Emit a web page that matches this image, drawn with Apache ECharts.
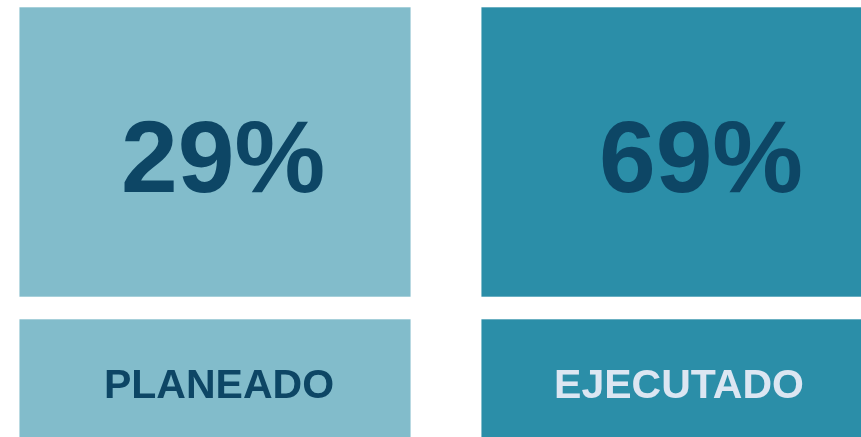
<!DOCTYPE html>
<html>
<head>
<meta charset="utf-8">
<title>Planeado vs Ejecutado</title>
<script src="https://cdn.jsdelivr.net/npm/echarts@6/dist/echarts.min.js"></script>
<style>
  html, body { margin: 0; padding: 0; background: #ffffff; }
  #chart { width: 861px; height: 437px; }
</style>
</head>
<body>
<div id="chart"></div>
<script>
// data
const categories = ['PLANEADO', 'EJECUTADO'];
const percentValues = [29, 69];

// look
const boxColors = ['#82BCCB', '#2B8EA8'];
const labelColors = ['#0D4665', '#DCE6F2'];
const valueColor = '#0D4665';
const valueShift = [8, 24];   // text nudge from card centre
const labelShift = [4, 2];

const chart = echarts.init(document.getElementById('chart'));

function cardItem(top, bottom, textFn, fontSize, dy, colorFn, shift) {
    return function (params, api) {
        const idx = api.value(0);
        const p1 = api.coord([idx, top]);
        const p2 = api.coord([idx, bottom]);
        const w = api.size([0.848, 0])[0];
        const cx = p1[0];
        return {
            type: 'group',
            children: [{
                type: 'rect',
                shape: { x: cx - w / 2, y: p1[1], width: w, height: p2[1] - p1[1] },
                style: { fill: boxColors[idx], stroke: 'rgba(255,255,255,0.6)', lineWidth: 1 }
            }, {
                type: 'text',
                style: {
                    text: textFn(idx, api),
                    x: cx + shift[idx],
                    y: (p1[1] + p2[1]) / 2 + dy,
                    fill: colorFn(idx),
                    fontSize: fontSize,
                    fontWeight: 'bold',
                    fontFamily: 'Liberation Sans, Arial, sans-serif',
                    align: 'center',
                    verticalAlign: 'middle'
                }
            }]
        };
    };
}

const option = {
    animation: false,
    grid: { left: 0, right: 0, top: 0, bottom: 0 },
    // one unit = 462px, card 0 centred at x=215
    xAxis: { type: 'value', min: -0.4654, max: 1.3983, show: false },
    yAxis: { type: 'value', min: 0, max: 437, inverse: true, show: false },
    series: [{
        name: 'valor',
        type: 'custom',
        renderItem: cardItem(7, 297, function (i, api) { return api.value(1) + '%'; }, 102, 12,
            function () { return valueColor; }, valueShift),
        data: percentValues.map(function (v, i) { return [i, v]; })
    }, {
        name: 'etiqueta',
        type: 'custom',
        renderItem: cardItem(319, 447, function (i) { return categories[i]; }, 41, 4,
            function (i) { return labelColors[i]; }, labelShift),
        data: categories.map(function (c, i) { return [i, 0]; })
    }]
};

chart.setOption(option);
</script>
</body>
</html>
